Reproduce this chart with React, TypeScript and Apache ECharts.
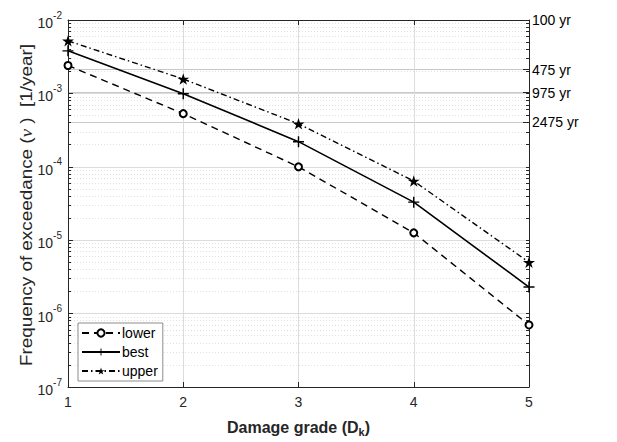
import React, { useEffect, useRef } from 'react';
import * as echarts from 'echarts';

const damageGrades = [1, 2, 3, 4, 5];
const lowerValues = [2.4e-3, 5.3e-4, 1.0e-4, 1.26e-5, 7.0e-7];
const bestValues = [3.8e-3, 9.9e-4, 2.2e-4, 3.3e-5, 2.3e-6];
const upperValues = [5.2e-3, 1.57e-3, 3.85e-4, 6.4e-5, 5.0e-6];
const returnPeriods = [100, 475, 975, 2475];
const decadeExponents = [-7, -6, -5, -4, -3];
const minorMultipliers = [1, 2, 3, 4, 5, 6, 7, 8, 9];

const Y_MIN = 1e-7;
const Y_MAX = 1e-2;

const minorTicks: number[] = [];
decadeExponents.forEach((e) => {
  minorMultipliers.forEach((k) => {
    if (k > 1) minorTicks.push(k * Math.pow(10, e));
  });
});
const allMinor: number[] = [];
decadeExponents.forEach((e) => {
  minorMultipliers.forEach((k) => allMinor.push(k * Math.pow(10, e)));
});
allMinor.push(Y_MAX);

const PLUS =
  'path://M-0.13,-1L0.13,-1L0.13,-0.13L1,-0.13L1,0.13L0.13,0.13L0.13,1L-0.13,1L-0.13,0.13L-1,0.13L-1,-0.13L-0.13,-0.13Z';
const STAR =
  'path://M0,-1L0.2245,-0.309L0.951,-0.309L0.363,0.118L0.588,0.809L0,0.382L-0.588,0.809L-0.363,0.118L-0.951,-0.309L-0.2245,-0.309Z';

const AXIS_COLOR = '#262626';
const FONT = 'Liberation Sans, Arial, Helvetica, sans-serif';

export default function App() {
  const ref = useRef<HTMLDivElement>(null);
  useEffect(() => {
    if (!ref.current) return;
    const chart = echarts.init(ref.current, undefined, { renderer: 'svg' });
    const toPairs = (vals: number[]) => damageGrades.map((x, i) => [x, vals[i]]);
    const logAxisBase = {
      type: 'log' as const,
      logBase: 10,
      min: Y_MIN,
      max: Y_MAX,
      gridIndex: 0,
    };
    chart.setOption({
      animation: false,
      backgroundColor: '#fff',
      textStyle: { fontFamily: FONT },
      grid: { left: 68, right: 88, top: 20, bottom: 49, containLabel: false },
      graphic: [
        {
          type: 'text',
          x: 27,
          y: 205,
          rotation: Math.PI / 2,
          scaleX: 1.18,
          scaleY: 1,
          style: {
            text: 'Frequency of exceedance ({nu|ν} )  [1/year]',
            fontSize: 16,
            fontFamily: FONT,
            fill: AXIS_COLOR,
            align: 'center',
            verticalAlign: 'middle',
            rich: {
              nu: {
                fontSize: 16,
                fontStyle: 'italic',
                fontFamily: 'Liberation Serif, DejaVu Serif, serif',
                fill: AXIS_COLOR,
              },
            },
          },
        },
      ],
      legend: {
        orient: 'vertical',
        left: 78,
        top: 323,
        data: ['lower', 'best', 'upper'],
        itemWidth: 38,
        itemHeight: 9,
        itemGap: 5,
        padding: [3, 5, 3, 3],
        backgroundColor: '#fff',
        borderColor: '#8c8c8c',
        borderWidth: 1,
        borderRadius: 0,
        textStyle: { fontSize: 14, color: '#000', fontFamily: FONT, padding: [0, 0, 0, -3] },
      },
      xAxis: [
        {
          type: 'value',
          min: 1,
          max: 5,
          interval: 1,
          position: 'bottom',
          name: 'Damage grade (D{sub|k})',
          nameLocation: 'middle',
          nameGap: 30,
          nameTextStyle: {
            fontSize: 16,
            fontWeight: 'bold',
            color: AXIS_COLOR,
            fontFamily: FONT,
            rich: {
              sub: { fontSize: 11, fontWeight: 'bold', color: AXIS_COLOR, padding: [9, 0, 0, 0], fontFamily: FONT },
            },
          },
          axisLine: { show: true, lineStyle: { color: AXIS_COLOR, width: 1 } },
          axisTick: { show: true, inside: true, length: 5, lineStyle: { color: AXIS_COLOR } },
          axisLabel: { fontSize: 14, color: AXIS_COLOR, margin: 8, fontFamily: FONT },
          splitLine: { show: true, lineStyle: { color: '#dcdcdc', width: 1 } },
        },
        {
          type: 'value',
          min: 1,
          max: 5,
          interval: 1,
          position: 'top',
          axisLine: { show: true, lineStyle: { color: AXIS_COLOR, width: 1 } },
          axisTick: { show: true, inside: true, length: 5, lineStyle: { color: AXIS_COLOR } },
          axisLabel: { show: false },
          splitLine: { show: false },
        },
      ],
      yAxis: [
        {
          ...logAxisBase,
          position: 'left',
          axisLine: { show: true, lineStyle: { color: AXIS_COLOR, width: 1 } },
          axisTick: { show: true, inside: true, length: 5, lineStyle: { color: AXIS_COLOR } },
          axisLabel: {
            margin: 6,
            color: AXIS_COLOR,
            formatter: (v: number) => `{b|10}{s|${Math.round(Math.log10(v))}}`,
            rich: {
              b: { fontSize: 14, color: AXIS_COLOR, fontFamily: FONT, verticalAlign: 'bottom', lineHeight: 20 },
              s: { fontSize: 10, color: AXIS_COLOR, fontFamily: FONT, verticalAlign: 'top', lineHeight: 20 },
            },
          },
          splitLine: { show: true, lineStyle: { color: '#dcdcdc', width: 1 } },
        },
        {
          ...logAxisBase,
          position: 'left',
          axisLine: { show: false },
          axisLabel: { show: false },
          axisTick: { show: true, inside: true, length: 3, customValues: minorTicks, lineStyle: { color: AXIS_COLOR } },
          splitLine: { show: true, lineStyle: { color: '#e2e2e2', width: 1, type: [1, 2] } },
        },
        {
          ...logAxisBase,
          position: 'right',
          axisLine: { show: true, lineStyle: { color: AXIS_COLOR, width: 1 } },
          axisTick: {
            show: true,
            inside: true,
            length: 6,
            customValues: returnPeriods.map((p) => 1 / p),
            lineStyle: { color: AXIS_COLOR },
          },
          axisLabel: {
            show: true,
            margin: 3,
            customValues: returnPeriods.map((p) => 1 / p),
            formatter: (v: number) => `${Math.round(1 / v)} yr`,
            fontSize: 14,
            color: '#000',
            fontFamily: FONT,
          },
          splitLine: { show: true, lineStyle: { color: '#c8c8c8', width: 1 } },
        },
        {
          ...logAxisBase,
          position: 'right',
          axisLine: { show: false },
          axisLabel: { show: false },
          axisTick: { show: true, inside: true, length: 3, customValues: allMinor, lineStyle: { color: AXIS_COLOR } },
          splitLine: { show: false },
        },
      ],
      series: [
        {
          name: 'lower',
          type: 'line',
          xAxisIndex: 0,
          yAxisIndex: 0,
          data: toPairs(lowerValues),
          symbol: 'emptyCircle',
          symbolSize: 7,
          itemStyle: { color: '#000', borderColor: '#000', borderWidth: 1.2 },
          lineStyle: { color: '#000', width: 1.4, type: [7, 5] },
          z: 5,
        },
        {
          name: 'best',
          type: 'line',
          xAxisIndex: 0,
          yAxisIndex: 0,
          data: toPairs(bestValues),
          symbol: PLUS,
          symbolSize: 11,
          itemStyle: { color: '#000' },
          lineStyle: { color: '#000', width: 1.6, type: 'solid' },
          z: 5,
        },
        {
          name: 'upper',
          type: 'line',
          xAxisIndex: 0,
          yAxisIndex: 0,
          data: toPairs(upperValues),
          symbol: STAR,
          symbolSize: 12,
          symbolKeepAspect: true,
          itemStyle: { color: '#000' },
          lineStyle: { color: '#000', width: 1.4, type: [6, 3, 1.5, 3] },
          z: 5,
        },
      ],
    });
    return () => chart.dispose();
  }, []);
  return (
    <div
      ref={ref}
      style={{ position: 'fixed', left: 0, top: 0, width: 617, height: 442, background: '#fff' }}
    />
  );
}
